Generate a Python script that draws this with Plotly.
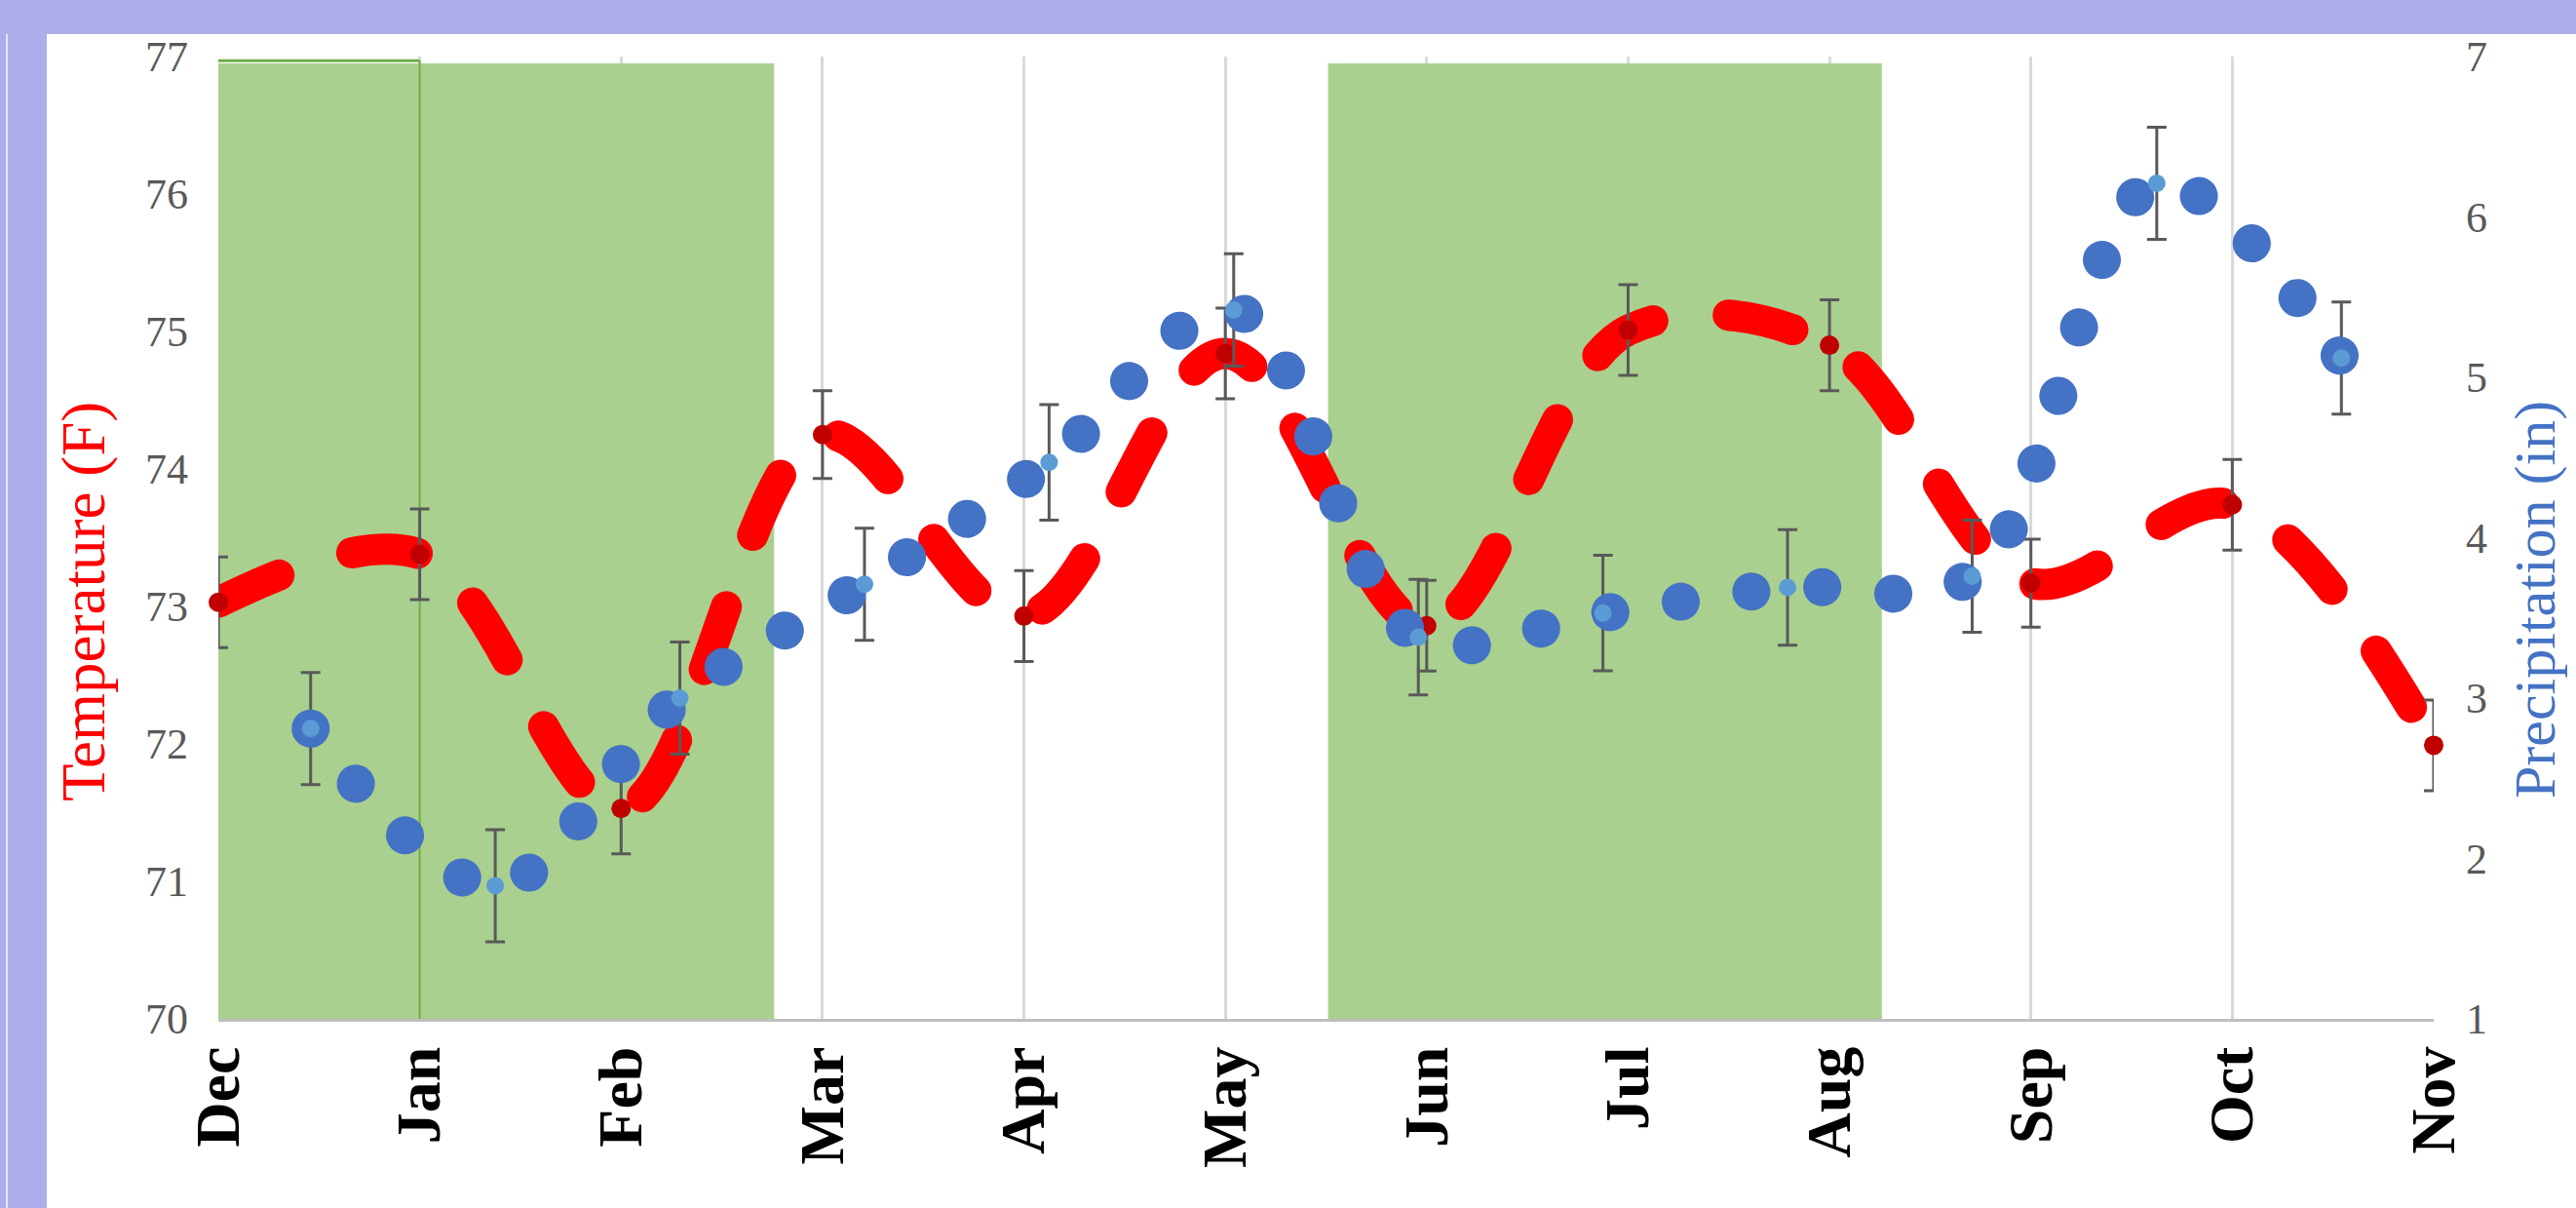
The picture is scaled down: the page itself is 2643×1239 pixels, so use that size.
import plotly.graph_objects as go

# ---- data -------------------------------------------------------------
months = ["Dec", "Jan", "Feb", "Mar", "Apr", "May", "Jun", "Jul", "Aug", "Sep", "Oct", "Nov"]
month_pos = [0, 1, 2, 3, 4, 5, 6, 7, 8, 9, 10, 11]

temp_f = [73.03, 73.38, 71.53, 74.25, 72.93, 74.84, 72.86, 75.01, 74.90, 73.17, 73.74, 71.99]
temp_err = [0.33, 0.33, 0.33, 0.32, 0.33, 0.33, 0.33, 0.33, 0.33, 0.32, 0.33, 0.33]

precip_in = [2.81, 1.83, 3.00, 3.71, 4.47, 5.42, 3.38, 3.53, 3.69, 3.76, 6.21, 5.12]
precip_err = [0.35, 0.35, 0.35, 0.35, 0.36, 0.35, 0.36, 0.36, 0.36, 0.35, 0.35, 0.35]

# shaded seasons, in months after the start of December
season_start = [0.0, 5.51]
season_end = [2.76, 8.26]
outlined_start = 0.0
outlined_end = 1.0

# ---- geometry ---------------------------------------------------------
W, H = 2643, 1239
ML, MR, MT, MB = 224, 146, 58, 194
PW, PH = W - ML - MR, H - MT - MB


def px_x(px):
    return (px - ML) / PW


def px_y(py):
    return (H - MB - py) / PH


RED = "#FF0000"
DARK_RED = "#C00000"
BLUE = "#4472C4"
LIGHT_BLUE = "#5B9BD5"
GREEN = "#A9D08E"
GREEN_EDGE = "#70AD47"
LAVENDER = "#ADADEB"
ERR = "#595959"
GRID = "#D9D9D9"

fig = go.Figure()

# temperature: thick dashed smoothed line on the left axis
fig.add_trace(go.Scatter(
    x=month_pos, y=temp_f, mode="lines",
    line=dict(color=RED, width=32, shape="spline", smoothing=1.0, dash="68px,78px"),
    hoverinfo="skip", showlegend=False,
))
fig.add_trace(go.Scatter(
    x=month_pos, y=temp_f, mode="markers",
    marker=dict(size=1, opacity=0),
    error_y=dict(type="data", array=temp_err, visible=True, color=ERR, thickness=3, width=10),
    hoverinfo="skip", showlegend=False,
))
fig.add_trace(go.Scatter(
    x=month_pos, y=temp_f, mode="markers", cliponaxis=False,
    marker=dict(size=20, color=DARK_RED),
    showlegend=False,
))

# precipitation: dotted smoothed line on the right axis
fig.add_trace(go.Scatter(
    x=month_pos, y=precip_in, mode="markers", xaxis="x2", yaxis="y2",
    marker=dict(size=1, opacity=0),
    error_y=dict(type="data", array=precip_err, visible=True, color=ERR, thickness=3, width=10),
    hoverinfo="skip", showlegend=False,
))
fig.add_trace(go.Scatter(
    x=month_pos, y=precip_in, mode="lines", xaxis="x2", yaxis="y2",
    line=dict(color=BLUE, width=39, shape="spline", smoothing=1.0, dash="0.1px,73px"),
    hoverinfo="skip", showlegend=False,
))
fig.add_trace(go.Scatter(
    x=month_pos, y=precip_in, mode="markers", xaxis="x2", yaxis="y2", cliponaxis=False,
    marker=dict(size=18, color=LIGHT_BLUE),
    showlegend=False,
))

shapes = []
for s, e in zip(season_start, season_end):
    shapes.append(dict(type="rect", xref="x", yref="y", x0=s, x1=e, y0=70, y1=76.95,
                       fillcolor=GREEN, line=dict(width=0), layer="between"))
shapes.append(dict(type="line", xref="x", yref="y", x0=outlined_start, x1=outlined_end,
                   y0=76.97, y1=76.97, line=dict(color=GREEN_EDGE, width=3), layer="between"))
shapes.append(dict(type="line", xref="x", yref="y", x0=outlined_end, x1=outlined_end,
                   y0=70, y1=76.97, line=dict(color=GREEN_EDGE, width=2), layer="between"))

# page frame bands
shapes.append(dict(type="rect", xref="paper", yref="paper",
                   x0=px_x(0), x1=px_x(W), y0=px_y(35), y1=px_y(0),
                   fillcolor=LAVENDER, line=dict(width=0), layer="above"))
shapes.append(dict(type="rect", xref="paper", yref="paper",
                   x0=px_x(0), x1=px_x(48), y0=px_y(H), y1=px_y(0),
                   fillcolor=LAVENDER, line=dict(width=0), layer="above"))
shapes.append(dict(type="line", xref="paper", yref="paper",
                   x0=px_x(7), x1=px_x(7), y0=px_y(H), y1=px_y(35),
                   line=dict(color="#E6E6F8", width=2), layer="above"))

annotations = [
    dict(text="Temperature (F)", xref="paper", yref="paper", x=px_x(86), y=px_y(617),
         xanchor="center", yanchor="middle", textangle=-90, showarrow=False,
         font=dict(family="Liberation Serif", size=63, color=RED)),
    dict(text="Precipitation (in)", xref="paper", yref="paper", x=px_x(2601), y=px_y(615),
         xanchor="center", yanchor="middle", textangle=-90, showarrow=False,
         font=dict(family="Liberation Serif", size=60, color=BLUE)),
]

tick_font = dict(family="Liberation Serif", size=44, color="#595959")

fig.update_layout(
    width=W, height=H, autosize=False,
    margin=dict(l=ML, r=MR, t=MT, b=MB, pad=0),
    paper_bgcolor="white", plot_bgcolor="white",
    showlegend=False,
    shapes=shapes, annotations=annotations,
    xaxis=dict(range=[0, 11], tickmode="array", tickvals=month_pos, ticktext=months,
               tickangle=-90, ticks="", ticklabelstandoff=0,
               tickfont=dict(family="Liberation Serif", size=64, color="black", weight="bold"),
               showgrid=True, gridcolor=GRID, gridwidth=3, zeroline=False,
               showline=True, linecolor="#BFBFBF", linewidth=3),
    xaxis2=dict(range=[-0.5, 11.5], overlaying="x", visible=False),
    yaxis=dict(range=[70, 77], dtick=1, tick0=70, ticks="", ticklabelstandoff=30,
               tickfont=tick_font, showgrid=False, zeroline=False, showline=False),
    yaxis2=dict(range=[1, 7], dtick=1, tick0=1, overlaying="y", side="right", ticks="",
                ticklabelstandoff=32, tickfont=tick_font, showgrid=False, zeroline=False,
                showline=False),
)

# rounded dash ends for the smoothed lines
round_caps = (
    "var st=document.createElement('style');"
    "st.textContent='.scatterlayer path.js-line{stroke-linecap:round;}';"
    "document.head.appendChild(st);"
)
fig.write_html("out.html", post_script=round_caps)
